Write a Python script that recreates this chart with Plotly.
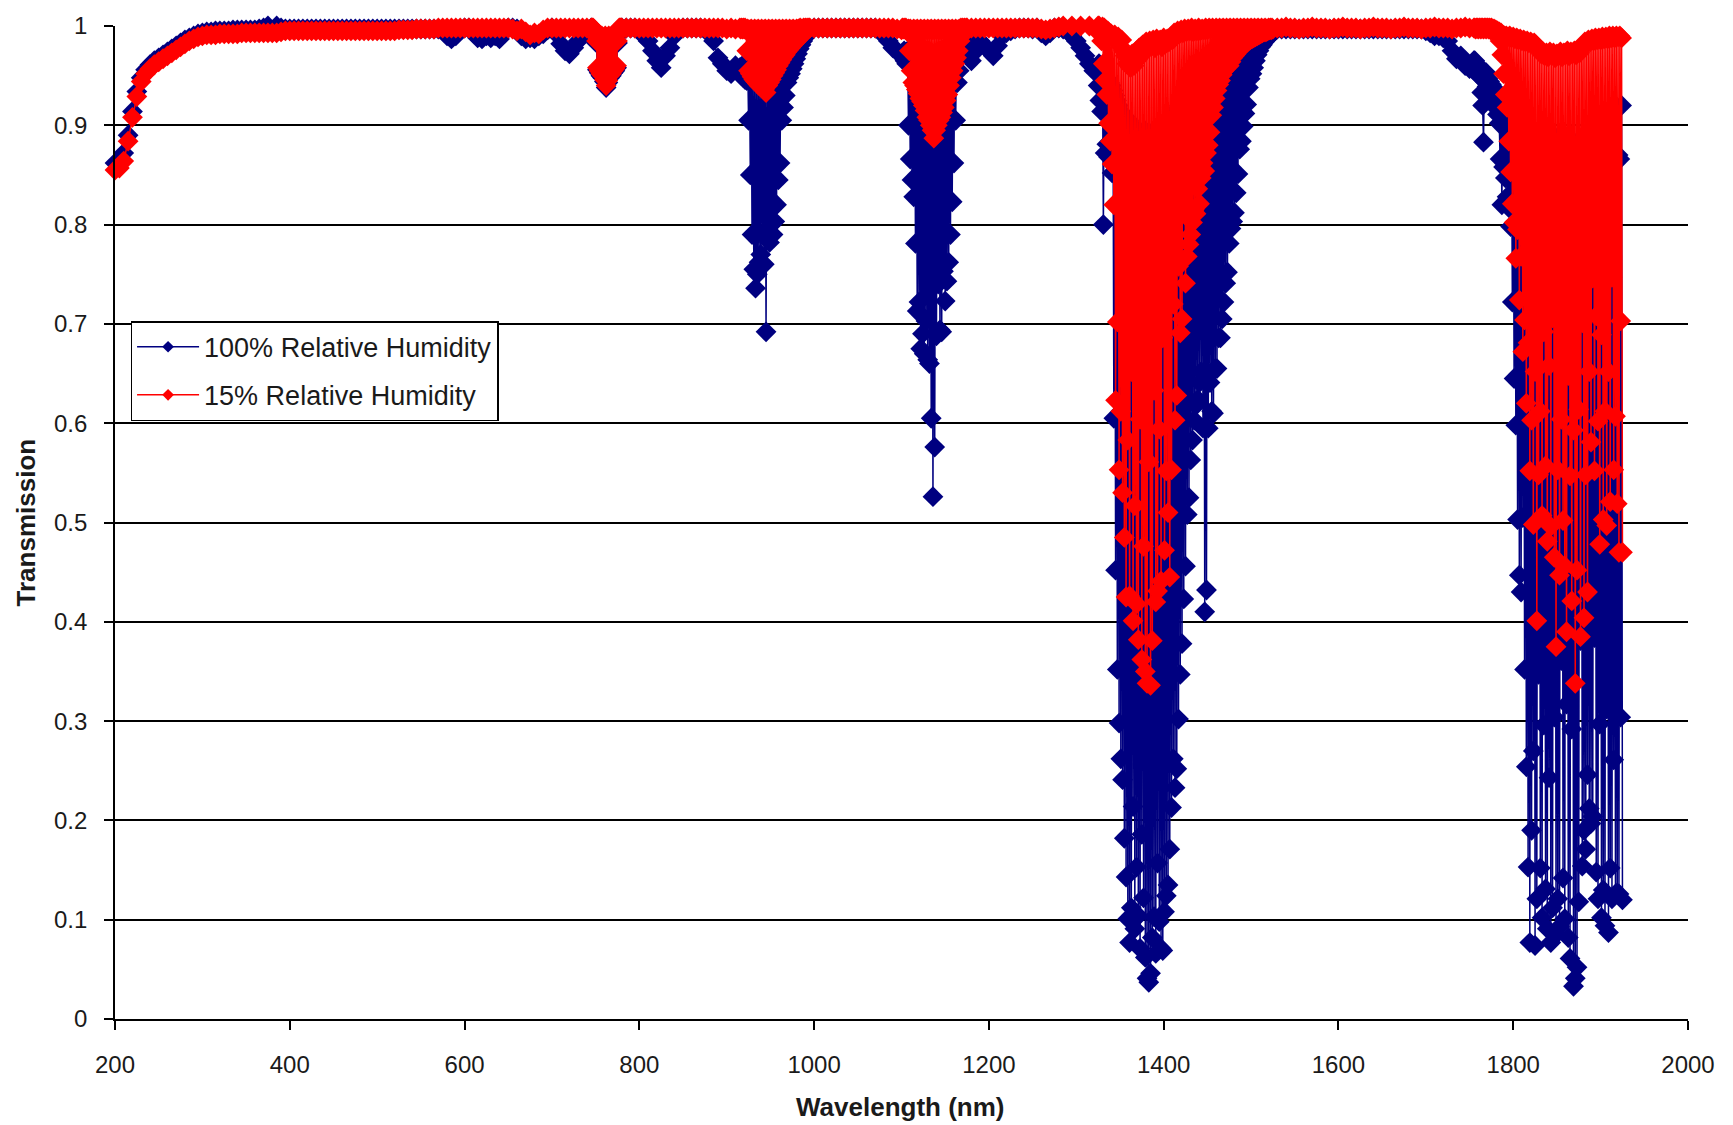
import plotly.graph_objects as go

# ---------------------------------------------------------------------------
# Atmospheric transmission spectra, 200-1925 nm.
# Each band is sampled on its own regular wavelength grid (start nm, step nm);
# the value lists below hold the transmission at every grid point.
# ---------------------------------------------------------------------------

band_grid = [(200, 5), (746, 1), (780, 5), (916, 1), (1000, 5),
             (1101, 1), (1180, 5), (1326, 1), (1530, 5), (1756, 1)]

# ---- 100 % relative humidity ----
t100_uv_vis = [
    .862, .864, .872, .890, .914, .934, .948, .956, .961, .965,
    .968, .971, .974, .977, .980, .983, .986, .988, .990, .992,
    .993, .994, .994, .995, .995, .995, .995, .996, .996, .996,
    .996, .996, .996, .997, .998, 1.000, 1.001, 1.000, .998, .997,
    .997, .997, .997, .997, .997, .997, .997, .997, .997, .997,
    .997, .997, .997, .997, .997, .997, .997, .997, .997, .997,
    .997, .997, .997, .997, .997, .997, .997, .997, .997, .997,
    .997, .997, .997, .997, .997, .997, .990, .987, .990, .996,
    .998, .998, .993, .988, .987, .990, .988, .990, .987, .995,
    .998, .998, .997, .990, .987, .988, .987, .990, .992, .996,
    .998, .992, .982, .975, .972, .978, .985, .990, .995, .998,
]
t100_o2 = [
    .997, .997, .996, .995, .988, .983, .956, .988, .953, .983,
    .950, .988, .948, .983, .944, .988, .938, .983, .943, .988,
    .948, .983, .950, .988, .953, .983, .955, .988, .958, .983,
    .993, .997, .997, .997,
]
t100_near_ir = [
    .998, .998, .998, .998,
    .995, .990, .985, .975, .965, .958, .970, .978, .990, .996,
    .998, .998, .998, .998, .998, .997, .992, .985, .968, .962,
    .955, .952, .960, .958,
]
t100_940 = [
    .958, .950, .960, .948, .957, .946, .958, .945,
    .962, .905, .960, .850, .958, .790, .956, .755, .955, .736,
    .953, .750, .952, .762, .950, .770, .950, .790, .948, .760,
    .950, .692, .952, .813, .955, .782, .957, .800, .958, .790,
    .960, .803, .962, .820, .963, .845, .965, .862, .966, .905,
    .968, .918, .970, .930, .972, .943, .974, .948, .976, .952,
    .978, .957, .980, .962, .982, .967, .984, .972, .986, .977,
    .988, .981, .990, .985, .992, .988, .994, .991, .996, .993,
    .997, .996,
]
t100_1000 = [
    .998, .998, .998, .998, .998, .998, .998, .998, .998, .998,
    .998, .998, .998, .998, .998, .997, .990, .985, .978, .975,
    .970,
]
t100_1130 = [
    .972, .968, .975, .965, .970, .962,
    .975, .900, .972, .866, .970, .845, .968, .828, .966, .781,
    .964, .713, .962, .722, .960, .675, .958, .690, .956, .670,
    .955, .703, .953, .664, .952, .660, .950, .605, .950, .526,
    .952, .576, .953, .688, .955, .740, .956, .694, .958, .692,
    .960, .753, .962, .723, .964, .743, .966, .762, .968, .790,
    .970, .823, .972, .862, .975, .905, .978, .943, .980, .955,
    .982, .970, .985, .975, .987, .981, .990, .985,
    .990,
]
t100_1200 = [
    .965, .975, .985, .980, .975, .970, .980, .990, .993, .995,
    .997, .998, .998, .998, .997, .998, .993, .990, .993, .998,
    .998, .997, .995, .990, .985, .978, .970, .962, .955, .940,
]
t100_1400 = [
    .962, .925, .958, .914, .955, .800, .950, .872, .948, .881,
    .945, .868, .943, .879, .940, .852, .935, .605, .930, .452,
    .925, .352, .920, .298, .915, .262, .905, .241, .910, .182,
    .900, .143, .895, .101, .905, .077, .890, .112, .900, .214,
    .885, .091, .895, .153, .880, .104, .890, .071, .885, .186,
    .880, .122, .895, .062, .885, .041, .890, .037, .880, .046,
    .892, .082, .885, .103, .895, .066, .882, .157, .890, .098,
    .885, .071, .895, .069, .890, .108, .900, .124, .895, .135,
    .905, .171, .900, .213, .910, .262, .905, .233, .915, .252,
    .910, .302, .920, .347, .915, .378, .925, .423, .920, .456,
    .930, .508, .925, .525, .935, .563, .940, .583, .935, .603,
    .945, .618, .940, .624, .950, .641, .945, .652, .955, .595,
    .950, .410, .958, .432, .955, .595, .960, .641, .958, .612,
    .962, .610, .960, .655, .965, .655, .962, .686, .968, .686,
    .965, .705, .970, .722, .968, .741, .972, .752, .970, .781,
    .975, .796, .972, .803, .978, .812, .975, .832, .980, .851,
    .978, .876, .982, .884, .980, .899, .984, .912, .982, .921,
    .986, .938, .984, .947, .988, .952, .986, .958, .990, .965,
    .988, .971, .991, .975, .990, .979, .992, .981, .991, .984,
    .993, .986, .992, .988, .994, .990, .994, .991, .995, .993,
]
t100_1600 = [
    .997, .997, .997, .997, .997, .997, .997, .997, .997, .997,
    .997, .997, .997, .997, .997, .997, .997, .997, .997, .997,
    .997, .997, .997, .997, .997, .997, .997, .997, .997, .997,
    .997, .997, .997, .997, .995, .993, .990, .990, .988, .985,
    .975, .967, .970, .960, .957, .965,
]
t100_1900 = [
    .965, .960, .962, .955, .958, .950, .955, .948, .933, .920,
    .883, .951, .944, .953, .939, .947, .937, .944, .934, .941,
    .929, .938, .924, .934, .918, .929, .911, .923, .902, .866,
    .930, .820, .925, .858, .920, .847, .918, .828, .915, .817,
    .912, .798, .910, .722, .908, .645, .905, .598, .903, .503,
    .900, .447, .902, .430, .898, .505, .900, .352, .896, .254,
    .898, .153, .894, .077, .896, .190, .892, .270, .895, .074,
    .890, .121, .893, .347, .889, .152, .892, .102, .888, .296,
    .891, .131, .887, .091, .890, .243, .886, .077, .889, .112,
    .885, .304, .888, .085, .884, .121, .887, .093, .883, .361,
    .886, .142, .882, .101, .885, .317, .881, .082, .884, .061,
    .880, .292, .883, .033, .879, .041, .882, .052, .878, .118,
    .881, .381, .877, .154, .880, .190, .876, .171, .879, .246,
    .875, .212, .878, .197, .874, .204, .877, .384, .873, .148,
    .876, .121, .872, .297, .875, .102, .871, .130, .874, .094,
    .870, .312, .873, .087, .869, .152, .872, .121, .868, .261,
    .871, .126, .867, .127, .870, .126, .866, .304, .920, .120,
]

# ---- 15 % relative humidity ----
t15_uv_vis = [
    .855, .857, .864, .884, .908, .929, .944, .952, .957, .961,
    .964, .967, .970, .973, .976, .979, .982, .985, .987, .989,
    .990, .991, .991, .991, .992, .992, .992, .992, .992, .993,
    .993, .993, .993, .993, .993, .993, .993, .993, .994, .995,
    .995, .995, .995, .995, .995, .995, .995, .995, .995, .995,
    .995, .995, .995, .995, .995, .995, .995, .995, .995, .995,
    .995, .995, .995, .995, .995, .996, .996, .996, .996, .997,
    .997, .997, .997, .997, .998, .998, .998, .998, .998, .998,
    .998, .998, .998, .998, .998, .998, .998, .998, .998, .998,
    .998, .997, .995, .997, .994, .991, .993, .992, .996, .998,
    .998, .998, .998, .998, .998, .998, .998, .998, .998, .998,
]
t15_o2 = [
    .998, .998, .997, .996, .990, .985, .958, .990, .955, .985,
    .952, .990, .950, .985, .946, .990, .940, .985, .945, .990,
    .950, .985, .952, .990, .955, .985, .957, .990, .960, .985,
    .995, .998, .998, .998,
]
t15_near_ir = [
    .998, .998, .998, .998,
    .998, .998, .998, .998, .998, .998, .998, .998, .998, .998,
    .998, .998, .998, .998, .998, .998, .998, .998, .998, .998,
    .997, .998, .997, .998,
]
t15_940 = [
    .997, .998, .997, .998, .997, .998, .996,
    .975, .997, .955, .996, .952, .997, .949, .996, .946, .997,
    .944, .996, .942, .997, .940, .996, .939, .997, .937, .996,
    .936, .997, .933, .996, .940, .997, .943, .996, .946, .997,
    .950, .996, .953, .997, .956, .996, .960, .997, .963, .996,
    .966, .997, .969, .996, .971, .997, .974, .996, .976, .997,
    .978, .996, .980, .997, .982, .996, .984, .997, .986, .997,
    .988, .998, .990, .997, .991, .998, .993, .998, .995, .998,
    .997, .998, .998,
]
t15_1000 = [
    .998, .998, .998, .998, .998, .998, .998, .998, .998, .998,
    .998, .998, .998, .998, .998, .998, .998, .998, .998, .997,
    .996,
]
t15_1130 = [
    .998, .997, .998, .997, .998, .996, .994,
    .997, .975, .997, .955, .996, .943, .997, .940, .996, .936,
    .997, .932, .996, .927, .997, .924, .996, .920, .997, .915,
    .996, .908, .997, .905, .996, .900, .997, .895, .996, .887,
    .997, .895, .996, .900, .997, .905, .996, .908, .997, .913,
    .996, .918, .997, .925, .996, .931, .997, .940, .996, .948,
    .997, .955, .996, .962, .997, .968, .996, .975, .997, .985,
    .998, .990, .998, .994, .998, .996,
    .998, .998,
]
t15_1200 = [
    .998, .998, .998, .998, .998, .998, .998, .998, .998, .998,
    .998, .998, .998, .998, .998, .998, .997, .996, .997, .998,
    .999, 1.000, 1.001, 1.000, 1.001, 1.000, 1.001, 1.000, 1.001, 1.000,
]
t15_1400 = [
    1.000, .992, 1.001, .985, .999, .962, .998, .945, .996, .931,
    .995, .902, .993, .884, .992, .861, .990, .820, .991, .623,
    .985, .702, .989, .553, .980, .612, .986, .530, .975, .485,
    .970, .425, .962, .583, .968, .426, .958, .652, .972, .401,
    .960, .517, .974, .418, .966, .382, .978, .604, .970, .362,
    .981, .476, .975, .350, .984, .338, .979, .561, .985, .336,
    .980, .381, .986, .633, .978, .420, .987, .431, .981, .594,
    .986, .441, .979, .686, .988, .472, .982, .552, .987, .510,
    .984, .445, .989, .553, .986, .720, .993, .603, .990, .628,
    .995, .758, .992, .691, .996, .705, .993, .812, .997, .741,
    .994, .768, .997, .780, .995, .790, .998, .802, .994, .815,
    .997, .811, .995, .836, .998, .821, .995, .847, .997, .862,
    .996, .854, .998, .872, .996, .880, .998, .893, .997, .910,
    .998, .918, .996, .927, .998, .935, .997, .941, .998, .945,
    .997, .951, .998, .955, .997, .957, .998, .962, .997, .960,
    .998, .964, .997, .968, .998, .970, .997, .972, .998, .975,
    .997, .976, .998, .978, .997, .980, .998, .982, .997, .983,
    .998, .985, .997, .986, .998, .987, .997, .988, .998, .989,
    .997, .990, .998, .991, .997, .992, .998, .993, .997, .994,
    .998, .994, .997, .995, .998, .996, .998, .996, .998, .997,
]
t15_1600 = [
    .998, .998, .999, .998, .998, .997, .998, .998, .999, .998,
    .998, .998, .997, .998, .998, .999, .998, .998, .998, .997,
    .998, .998, .999, .998, .998, .998, .997, .998, .998, .999,
    .998, .998, .998, .997, .998, .998, .999, .998, .998, .998,
    .997, .998, .998, .999, .998, .998,
]
t15_1900 = [
    .998, .997, .998, .998, .997, .998, .998, .997, .998, .998,
    .997, .998, .998, .997, .998, .998, .997, .998, .996, .998,
    .997, .995, .997, .994, .996, .993, .995, .990, .994, .985,
    .993, .971, .991, .952, .990, .931, .990, .918, .989, .884,
    .990, .853, .988, .821, .989, .802, .987, .766, .988, .795,
    .986, .724, .987, .768, .985, .672, .986, .704, .984, .620,
    .985, .681, .983, .552, .984, .603, .982, .498, .983, .652,
    .981, .401, .979, .548, .976, .612, .972, .507, .974, .692,
    .970, .557, .973, .481, .969, .658, .974, .496, .971, .706,
    .973, .465, .968, .375, .972, .553, .970, .447, .974, .604,
    .969, .502, .973, .456, .971, .390, .975, .648, .970, .547,
    .974, .421, .972, .593, .975, .338, .971, .452, .976, .614,
    .973, .385, .978, .701, .980, .404, .984, .548, .982, .430,
    .986, .652, .984, .581, .987, .746, .985, .552, .988, .708,
    .986, .602, .988, .478, .986, .689, .989, .503, .987, .612,
    .989, .497, .987, .652, .990, .521, .988, .747, .990, .553,
    .988, .607, .990, .519, .989, .470, .990, .703, .988, .470,
]

series_names = ["100% Relative Humidity", "15% Relative Humidity"]
series_colors = ["#000080", "#ff0000"]
x_ticks = [200, 400, 600, 800, 1000, 1200, 1400, 1600, 1800, 2000]
y_ticks = [0, 0.1, 0.2, 0.3, 0.4, 0.5, 0.6, 0.7, 0.8, 0.9, 1]
y_labels = ["0", "0.1", "0.2", "0.3", "0.4", "0.5", "0.6", "0.7", "0.8", "0.9", "1"]

humid_bands = [t100_uv_vis, t100_o2, t100_near_ir, t100_940, t100_1000,
               t100_1130, t100_1200, t100_1400, t100_1600, t100_1900]
dry_bands = [t15_uv_vis, t15_o2, t15_near_ir, t15_940, t15_1000,
             t15_1130, t15_1200, t15_1400, t15_1600, t15_1900]


def assemble(bands):
    """Join the band samples into one wavelength/transmission pair of lists."""
    wl, tr = [], []
    for (start, step), vals in zip(band_grid, bands):
        wl.extend(start + step * i for i in range(len(vals)))
        tr.extend(vals)
    return wl, tr


FONT = "Liberation Sans, Arial, sans-serif"
fig = go.Figure()

# spectra (the drier curve is drawn last so it sits on top)
for idx, bands in enumerate([humid_bands, dry_bands]):
    wl, tr = assemble(bands)
    fig.add_trace(go.Scatter(
        x=wl, y=tr, name=series_names[idx], legendgroup=f"g{idx}", showlegend=False,
        mode="lines+markers", cliponaxis=False,
        line=dict(color=series_colors[idx], width=1.5, simplify=False),
        marker=dict(symbol="diamond", size=16, color=series_colors[idx], line=dict(width=0)),
    ))

# legend keys with a smaller diamond than the plotted markers
for idx in range(2):
    fig.add_trace(go.Scatter(
        x=[None], y=[None], name=series_names[idx], legendgroup=f"g{idx}",
        mode="lines+markers",
        line=dict(color=series_colors[idx], width=1.5),
        marker=dict(symbol="diamond", size=9, color=series_colors[idx], line=dict(width=0)),
    ))

fig.update_layout(
    width=1733, height=1125,
    margin=dict(l=115, r=45, t=20, b=106, pad=0),
    paper_bgcolor="white", plot_bgcolor="white",
    font=dict(family=FONT, color="#1a1a1a"),
    showlegend=True,
    legend=dict(
        x=0.0099, y=0.7027, xanchor="left", yanchor="top",
        bgcolor="white", bordercolor="black", borderwidth=1.5,
        font=dict(family=FONT, size=27, color="#1a1a1a"),
        itemwidth=62, tracegroupgap=10,
    ),
    xaxis=dict(
        range=[200, 2000], tickmode="array", tickvals=x_ticks,
        ticks="outside", ticklen=9, tickwidth=1.5, tickcolor="black",
        showline=True, linecolor="black", linewidth=1.8,
        showgrid=False, zeroline=False,
        tickfont=dict(family=FONT, size=24, color="#1a1a1a"),
        ticklabelstandoff=14,
    ),
    yaxis=dict(
        range=[0, 1], tickmode="array", tickvals=y_ticks, ticktext=y_labels,
        ticks="outside", ticklen=9, tickwidth=1.5, tickcolor="black",
        showline=True, linecolor="black", linewidth=1.8,
        showgrid=True, gridcolor="black", gridwidth=1.8, zeroline=False,
        tickfont=dict(family=FONT, size=24, color="#1a1a1a"),
        ticklabelstandoff=12,
    ),
    annotations=[
        dict(text="<b>Wavelength (nm)</b>", xref="paper", yref="paper",
             x=0.499, y=-0.089, xanchor="center", yanchor="middle", showarrow=False,
             font=dict(family=FONT, size=26, color="#1a1a1a")),
        dict(text="<b>Transmission</b>", xref="paper", yref="paper",
             x=-0.0566, y=0.5, xanchor="center", yanchor="middle", showarrow=False,
             textangle=-90, font=dict(family=FONT, size=26, color="#1a1a1a")),
    ],
)

fig.write_html("out.html")
